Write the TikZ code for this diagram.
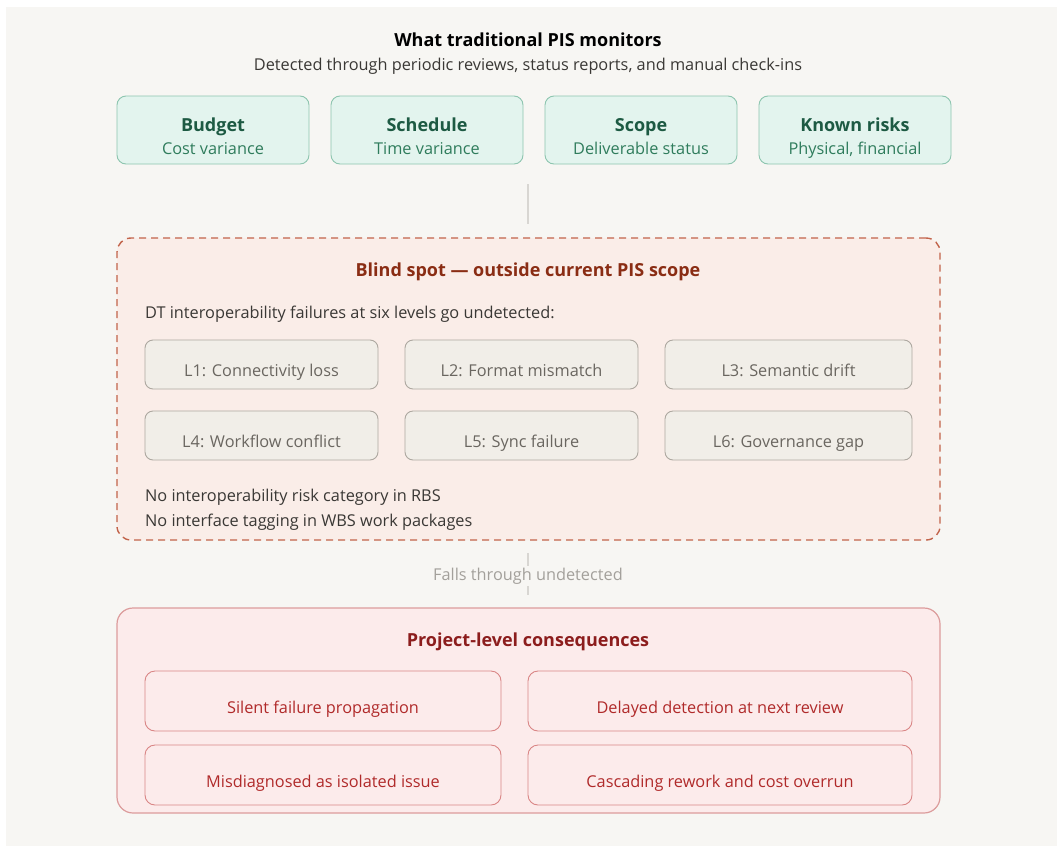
\documentclass[tikz,border=0pt]{standalone}
\usepackage{fontspec}
\setmainfont{Open Sans}
\begin{document}
\definecolor{bgpaper}{HTML}{F7F6F3}
\definecolor{mintfill}{HTML}{E3F4EE}
\definecolor{mintdraw}{HTML}{8DC5AF}
\definecolor{minthead}{HTML}{1D5A43}
\definecolor{mintsub}{HTML}{2F7C5C}
\definecolor{blindfill}{HTML}{FAEDE8}
\definecolor{blinddraw}{HTML}{C2644B}
\definecolor{blindhead}{HTML}{8A2D14}
\definecolor{bodytext}{HTML}{3A3835}
\definecolor{lvlfill}{HTML}{F1EEE8}
\definecolor{lvldraw}{HTML}{ADA8A0}
\definecolor{lvltext}{HTML}{6A6660}
\definecolor{consfill}{HTML}{FCEBEB}
\definecolor{consdraw}{HTML}{DC9C9C}
\definecolor{conshead}{HTML}{8C1D1D}
\definecolor{itemdraw}{HTML}{D98585}
\definecolor{itemtext}{HTML}{B02A2A}
\definecolor{linkgray}{HTML}{D8D6D2}
\definecolor{fallgray}{HTML}{A3A09B}
\begin{tikzpicture}[x=1pt,y=-1pt,
  headfont/.style={font=\fontsize{18}{22}\selectfont\bfseries},
  bodyfont/.style={font=\fontsize{16.3}{19}\selectfont},
  metric/.style={draw=mintdraw,fill=mintfill,line width=0.9pt,rounded corners=9pt,
    minimum width=192pt,minimum height=68pt,inner sep=0pt},
  metrichead/.style={anchor=base,inner sep=0pt,text=minthead,headfont},
  metricsub/.style={anchor=base,inner sep=0pt,text=mintsub,bodyfont},
  levelbox/.style={draw=lvldraw,fill=lvlfill,line width=0.9pt,rounded corners=8pt,
    minimum height=49pt,inner sep=0pt,text height=23pt,text depth=0pt,
    text=lvltext,bodyfont},
  itembox/.style={draw=itemdraw,fill=consfill,line width=0.9pt,rounded corners=10pt,
    minimum height=60pt,inner sep=0pt,text height=24pt,text depth=0pt,
    text=itemtext,bodyfont},
  bodyline/.style={anchor=base west,inner sep=0pt,text=bodytext,bodyfont},
  link/.style={draw=linkgray,line width=1.2pt}]
% page and background panel
\useasboundingbox (0,0) rectangle (1057,846);
\fill[white] (0,0) rectangle (1057,846);
\fill[bgpaper] (6,7) rectangle (1057,846);

% header
\node[anchor=base,inner sep=0pt,headfont] (title) at (528,46.5) {What traditional PIS monitors};
\node[anchor=base,inner sep=0pt,text=bodytext,bodyfont] (subtitle) at (528,70.5)
  {Detected through periodic reviews, status reports, and manual check-ins};

% monitored dimensions
\node[metric] (budget)   at (213,130) {};
\node[metric] (schedule) at (427,130) {};
\node[metric] (scope)    at (641,130) {};
\node[metric] (risks)    at (855,130) {};
\foreach \mname/\head/\sub in {budget/Budget/Cost variance,
    schedule/Schedule/Time variance,
    scope/Scope/Deliverable status,
    risks/Known risks/{Physical, financial}}{
  \node[metrichead] (\mname-head) at ([yshift=-1pt]\mname.center) {\head};
  \node[metricsub]  (\mname-sub)  at ([yshift=-24pt]\mname.center) {\sub};
}

% blind spot panel
\node[draw=blinddraw,fill=blindfill,line width=1.4pt,dash pattern=on 7pt off 5pt,
  rounded corners=14pt,minimum width=823pt,minimum height=302pt,inner sep=0pt]
  (blind) at (528.5,389) {};
\node[anchor=base,inner sep=0pt,text=blindhead,headfont] (blindtitle) at (528,276.5)
  {Blind spot — outside current PIS scope};
\node[bodyline] (intro) at (145,318) {DT interoperability failures at six levels go undetected:};

\node[levelbox,minimum width=233pt] (l1) at (261.5,364.5) {L1: Connectivity loss};
\node[levelbox,minimum width=233pt] (l2) at (521.5,364.5) {L2: Format mismatch};
\node[levelbox,minimum width=247pt] (l3) at (788.5,364.5) {L3: Semantic drift};
\node[levelbox,minimum width=233pt] (l4) at (261.5,435.5) {L4: Workflow conflict};
\node[levelbox,minimum width=233pt] (l5) at (521.5,435.5) {L5: Sync failure};
\node[levelbox,minimum width=247pt] (l6) at (788.5,435.5) {L6: Governance gap};

\node[bodyline] (rbs) at (145,501.5) {No interoperability risk category in RBS};
\node[bodyline] (wbs) at (145,526.5) {No interface tagging in WBS work packages};

% consequences panel
\node[draw=consdraw,fill=consfill,line width=1.2pt,rounded corners=16pt,
  minimum width=823pt,minimum height=205pt,inner sep=0pt] (cons) at (528.5,710.5) {};
\node[anchor=base,inner sep=0pt,text=conshead,headfont] (constitle) at (528,646.5)
  {Project-level consequences};
\node[itembox,minimum width=356pt] (c1) at (323,701) {Silent failure propagation};
\node[itembox,minimum width=384pt] (c2) at (720,701) {Delayed detection at next review};
\node[itembox,minimum width=356pt] (c3) at (323,775) {Misdiagnosed as isolated issue};
\node[itembox,minimum width=384pt] (c4) at (720,775) {Cascading rework and cost overrun};

% connectors between the panels
\coordinate (linkA) at (528,184);
\coordinate (linkB) at (528,224);
\draw[link] (linkA) -- (linkB);
\coordinate (fallA) at (528,553);
\coordinate (fallB) at (528,595);
\draw[link] (fallA) -- (fallB);
\node[anchor=base,fill=bgpaper,text=fallgray,inner xsep=0pt,inner ysep=2pt,bodyfont]
  (fall) at (528,580.5) {Falls through undetected};
\end{tikzpicture}
\end{document}
